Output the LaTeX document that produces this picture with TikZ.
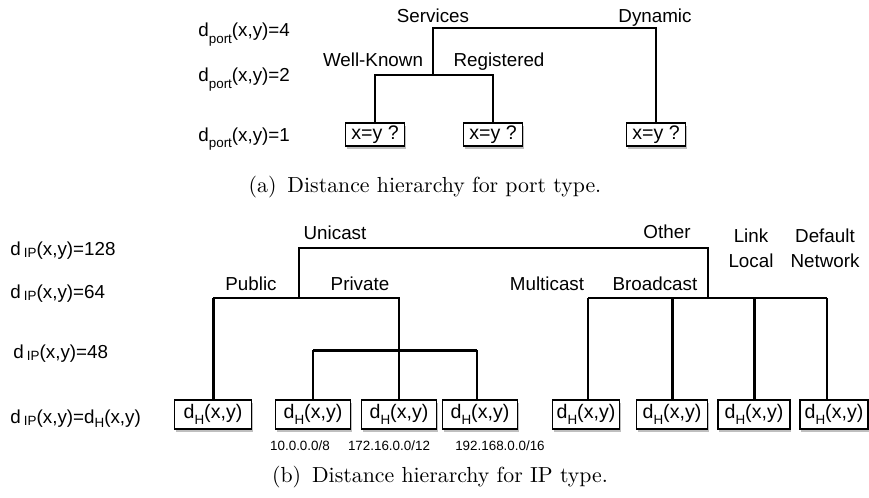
\documentclass[tikz,border=0pt]{standalone}
\usepackage{fontspec}
\newfontfamily\lblfont{Liberation Sans}
\usetikzlibrary{positioning, shadows}
\newcommand{\subdown}[2][3pt]{\raisebox{-#1}{\fontsize{6.7}{7}\selectfont #2}}

\begin{document}
\begin{tikzpicture}[
    x=0.5pt, y=-0.5pt,
    lbl/.style={font=\lblfont\fontsize{9.4}{12.5}\selectfont, inner sep=0pt, anchor=base, align=center},
    lvl/.style={lbl, anchor=base west},
    leaf/.style={rectangle, draw, fill=white, line width=0.7pt, minimum width=#1, inner sep=0.5pt,
        font=\lblfont\fontsize{9.8}{11}\selectfont,
        drop shadow={shadow xshift=0.7pt, shadow yshift=-1.5pt, opacity=0.25, fill=black}},
    leaf/.default=29.5pt,
    pleaf/.style={leaf, minimum height=11.5pt},
    ileaf/.style={leaf=#1, minimum height=14.5pt},
    ileaf/.default=37.5pt,
    link/.style={line width=1pt},
    tlink/.style={line width=1.5pt},
    net/.style={font=\lblfont\fontsize{6.7}{8}\selectfont, inner sep=0pt, anchor=base},
    subcap/.style={font=\fontsize{10.9}{13}\selectfont, inner sep=0pt, anchor=base},
]
    \useasboundingbox (0,0) rectangle (869,498);

    % Port type: levels
    \node[lvl] (pl4) at (198,37) {d\subdown{port}(x,y)=4};
    \node[lvl] (pl2) at (198,82) {d\subdown{port}(x,y)=2};
    \node[lvl] (pl1) at (198,141) {d\subdown{port}(x,y)=1};

    % Port type: leaves
    \node[pleaf] (px1) at (375,134.5) {x=y ?};
    \node[pleaf] (px2) at (493,134.5) {x=y ?};
    \node[pleaf] (px3) at (656,134.5) {x=y ?};

    % Port type: branches
    \coordinate (svc) at (433,28);
    \coordinate (dyn) at (656,28);
    \coordinate (wk) at (375,75);
    \coordinate (reg) at (493,75);
    \node[lbl] (tsvc) at (433,22) {Services};
    \node[lbl] (tdyn) at (655,22) {Dynamic};
    \node[lbl] (twk) at (373,67) {Well-Known};
    \node[lbl] (treg) at (499,67) {Registered};

    \draw[link] (svc |- wk) -- (svc) -- (dyn) -- (px3.north);
    \draw[link] (px1.north) -- (wk) -- (reg) -- (px2.north);

    \node[subcap] (capa) at (425,192) {(a)\enspace Distance hierarchy for port type.};

    % IP type: levels
    \node[lvl] (il128) at (10,255) {d\,\subdown[1.2pt]{IP}(x,y)=128};
    \node[lvl] (il64) at (10,298) {d\,\subdown[1.2pt]{IP}(x,y)=64};
    \node[lvl] (il48) at (13,358) {d\,\subdown[1.2pt]{IP}(x,y)=48};
    \node[lvl] (ilh) at (10,423) {d\,\subdown[1.2pt]{IP}(x,y)=d\subdown[2pt]{H}(x,y)};

    % IP type: leaves
    \node[ileaf=38.5pt] (ix1) at (213,414.5) {d\subdown{H}(x,y)};
    \node[ileaf] (ix2) at (313,414.5) {d\subdown{H}(x,y)};
    \node[ileaf] (ix3) at (399,414.5) {d\subdown{H}(x,y)};
    \node[ileaf] (ix4) at (480,414.5) {d\subdown{H}(x,y)};
    \node[ileaf=33.5pt] (ix5) at (586,414.5) {d\subdown{H}(x,y)};
    \node[ileaf=35.5pt] (ix6) at (672,414.5) {d\subdown{H}(x,y)};
    \node[ileaf=36pt] (ix7) at (754,414.5) {d\subdown{H}(x,y)};
    \node[ileaf=34pt] (ix8) at (834,414.5) {d\subdown{H}(x,y)};

    \node[net] (n10) at (300,450) {10.0.0.0/8};
    \node[net] (n172) at (389,450) {172.16.0.0/12};
    \node[net] (n192) at (500,450) {192.168.0.0/16};

    % IP type: branches
    \coordinate (uni) at (299,248);
    \coordinate (oth) at (708,248);
    \coordinate (pub) at (213,298);
    \coordinate (priv) at (399,298);
    \coordinate (prv1) at (313,350);
    \coordinate (prv3) at (477,350);
    \coordinate (mul) at (588,298);
    \coordinate (dfn) at (827,298);
    \node[lbl] (tuni) at (335,239) {Unicast};
    \node[lbl] (toth) at (667,238) {Other};
    \node[lbl] (tpub) at (251,290) {Public};
    \node[lbl] (tpriv) at (360,290) {Private};
    \node[lbl] (tmul) at (547,290) {Multicast};
    \node[lbl] (tbro) at (655,290) {Broadcast};
    \node[lbl] (tlnk) at (751,267) {Link\\Local};
    \node[lbl] (tdfn) at (825,267) {Default\\Network};

    \draw[link] (uni |- pub) -- (uni) -- (oth) -- (oth |- mul);
    \draw[link] (pub) -- (priv) -- (ix3.north);
    \draw[tlink] (pub) -- (ix1.north);
    \draw[tlink] (prv1) -- (prv3);
    \draw[link] (ix2.north) -- (prv1);
    \draw[link] (prv3) -- (prv3 |- ix4.north);
    \draw[link] (mul) -- (dfn);
    \draw[link] (mul) -- (mul |- ix5.north);
    \draw[tlink] (ix6.north) -- (ix6.north |- mul);
    \draw[tlink] (ix7.north) -- (ix7.north |- mul);
    \draw[link] (dfn) -- (dfn |- ix8.north);

    \node[subcap] (capb) at (440,482) {(b)\enspace Distance hierarchy for IP type.};
\end{tikzpicture}
\end{document}
